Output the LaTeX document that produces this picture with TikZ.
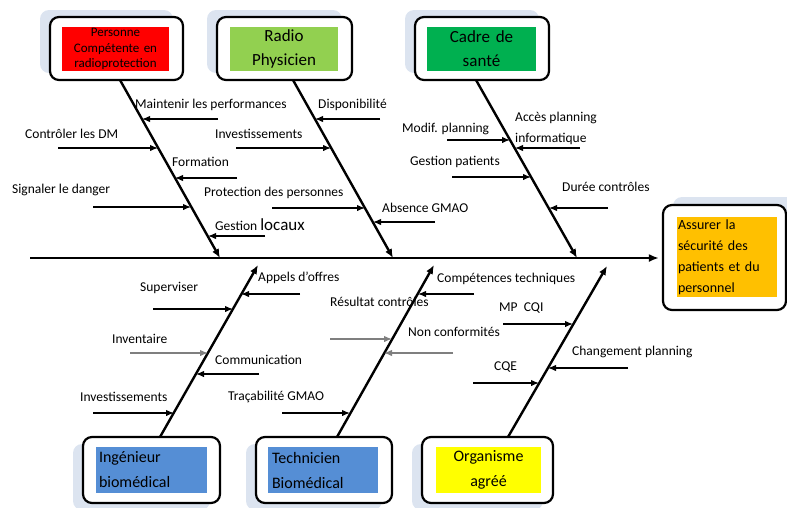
\documentclass[tikz,border=0pt]{standalone}
\usepackage{fontspec}
\setmainfont{Carlito}
\usetikzlibrary{arrows.meta}
\definecolor{shadowc}{HTML}{DCE4F0}
\definecolor{cred}{HTML}{FF0000}
\definecolor{cgreenl}{HTML}{92D050}
\definecolor{cgreen}{HTML}{00B050}
\definecolor{corange}{HTML}{FFC000}
\definecolor{cblue}{HTML}{558ED5}
\definecolor{cyellow}{HTML}{FFFF00}
\definecolor{cgray}{HTML}{7F7F7F}
\begin{document}
\begin{tikzpicture}[x=1pt,y=-1pt,
  lbl/.style={anchor=west, inner sep=0pt, font=\fontsize{13.5}{15}\selectfont},
  side/.style={line width=1.3pt, -{Latex[length=8pt,width=6.5pt]}},
  grayside/.style={side, draw=cgray},
  bone/.style={line width=2.4pt, -{Latex[length=9pt,width=7.5pt]}},
  spine/.style={line width=2.8pt, -{Latex[length=10pt,width=8pt]}},
  outerbox/.style={draw, line width=2.2pt, rounded corners=9pt, fill=white, inner sep=0pt},
  shadowbox/.style={fill=shadowc, rounded corners=9pt, draw=none, inner sep=0pt},
  inner/.style={inner sep=0pt, align=center},
  ]
\useasboundingbox (0,0) rectangle (787,507);
\clip (0,0) rectangle (787,507);

% shadows
\node[shadowbox, minimum width=133pt, minimum height=63pt] (sh1) at (106.5,41.5) {};
\node[shadowbox, minimum width=135pt, minimum height=63pt] (sh2) at (274.5,41.5) {};
\node[shadowbox, minimum width=134pt, minimum height=63pt] (sh3) at (472,41.5) {};
\node[shadowbox, minimum width=123pt, minimum height=105pt] (sh7) at (734.5,249.5) {};
\node[shadowbox, minimum width=137pt, minimum height=66pt] (sh4) at (141.5,477) {};
\node[shadowbox, minimum width=136pt, minimum height=66pt] (sh5) at (314,477) {};
\node[shadowbox, minimum width=131pt, minimum height=66pt] (sh6) at (477.5,477) {};

% spine and bones
\coordinate (sp0) at (30,258);
\coordinate (b1t) at (120,80);  \coordinate (b1b) at (220,258);
\coordinate (b2t) at (293,80);  \coordinate (b2b) at (393,258);
\coordinate (b3t) at (476,80);  \coordinate (b3b) at (577,258);
\coordinate (b4b) at (160,437); \coordinate (b4t) at (258,265);
\coordinate (b5b) at (337,437); \coordinate (b5t) at (434,265);
\coordinate (b6b) at (508,437); \coordinate (b6t) at (607,266);

% boxes
\node[outerbox, minimum width=133pt, minimum height=63pt] (bx1) at (116.5,48.5) {};
\node[outerbox, minimum width=135pt, minimum height=63pt] (bx2) at (284.5,48.5) {};
\node[outerbox, minimum width=134pt, minimum height=63pt] (bx3) at (482,48.5) {};
\node[outerbox, minimum width=123pt, minimum height=105pt] (bx7) at (724.5,257.5) {};
\node[outerbox, minimum width=137pt, minimum height=66pt] (bx4) at (151.5,470) {};
\node[outerbox, minimum width=136pt, minimum height=66pt] (bx5) at (324,470) {};
\node[outerbox, minimum width=131pt, minimum height=66pt] (bx6) at (487.5,470) {};

\draw[spine, shorten >=3pt] (sp0) -- (sp0 -| bx7.west);
\draw[bone] (b1t) -- (b1b);
\draw[bone] (b2t) -- (b2b);
\draw[bone] (b3t) -- (b3b);
\draw[bone] (b4b) -- (b4t);
\draw[bone] (b5b) -- (b5t);
\draw[bone] (b6b) -- (b6t);

% inner coloured boxes
\node[inner, fill=cred, minimum height=44pt, text width=107pt, font=\fontsize{13}{15.5}\selectfont] (t1) at (115.5,49) {Personne\\Compétente en\\radioprotection};
\node[inner, fill=cgreenl, minimum height=44pt, text width=108pt, font=\fontsize{17}{24}\selectfont] (t2) at (284,49) {Radio\\Physicien};
\node[inner, fill=cgreen, minimum height=44pt, text width=109pt, font=\fontsize{17}{24}\selectfont] (t3) at (481.5,49) {Cadre de\\santé};
\node[inner, fill=corange, minimum height=80pt, text width=98pt, inner xsep=1pt, align=left, font=\fontsize{14}{21}\selectfont] (t4) at (727,257) {Assurer la\\sécurité des\\patients et du\\personnel};
\node[inner, fill=cblue, minimum height=46pt, text width=105pt, inner xsep=3pt, align=left, font=\fontsize{16}{25}\selectfont] (t5) at (151.5,470) {Ingénieur\\biomédical};
\node[inner, fill=cblue, minimum height=46pt, text width=102pt, inner xsep=4pt, align=left, font=\fontsize{16}{25}\selectfont] (t6) at (323,470) {Technicien\\Biomédical};
\node[inner, fill=cyellow, minimum height=46pt, text width=105pt, font=\fontsize{16}{25}\selectfont] (t7) at (488.5,470) {Organisme\\agréé};

% labels
\node[lbl] (l1) at (135,105) {Maintenir les performances};
\node[lbl] (l2) at (25,134) {Contrôler les DM};
\node[lbl] (l3) at (172,162) {Formation};
\node[lbl] (l4) at (12,190) {Signaler le danger};
\node[lbl] (l5) at (215,225) {Gestion {\fontsize{17}{17}\selectfont locaux}};
\node[lbl] (l6) at (318,105) {Disponibilité};
\node[lbl] (l7) at (215,134) {Investissements};
\node[lbl] (l8) at (204,193) {Protection des personnes};
\node[lbl] (l9) at (382,208) {Absence GMAO};
\node[lbl] (l10) at (402,129) {Modif. planning};
\node[lbl, align=left, font=\fontsize{13.5}{21}\selectfont] (l11) at (515,128.5) {Accès planning\\informatique};
\node[lbl] (l12) at (410,162) {Gestion patients};
\node[lbl] (l13) at (562,187) {Durée contrôles};
\node[lbl] (l14) at (258,278) {Appels d’offres};
\node[lbl] (l15) at (140,288) {Superviser};
\node[lbl] (l16) at (112,339) {Inventaire};
\node[lbl] (l17) at (215,360) {Communication};
\node[lbl] (l18) at (80,397) {Investissements};
\node[lbl] (l19) at (437,279) {Compétences techniques};
\node[lbl] (l20) at (330,302) {Résultat contrôles};
\node[lbl] (l21) at (408,332) {Non conformités};
\node[lbl] (l22) at (228,397) {Traçabilité GMAO};
\node[lbl] (l23) at (499,308) {MP\ \ CQI};
\node[lbl] (l24) at (572,352) {Changement planning};
\node[lbl] (l25) at (494,367) {CQE};

% side arrows
\coordinate (a1s) at (218,119); \coordinate (a1e) at (142,119);
\coordinate (a2s) at (58,148);  \coordinate (a2e) at (158,148);
\coordinate (a3s) at (237,178); \coordinate (a3e) at (175,178);
\coordinate (a4s) at (93,207);  \coordinate (a4e) at (191,207);
\coordinate (a5s) at (265,236); \coordinate (a5e) at (208,236);
\coordinate (a6s) at (380,119); \coordinate (a6e) at (315,119);
\coordinate (a7s) at (236,148); \coordinate (a7e) at (331,148);
\coordinate (a8s) at (272,208); \coordinate (a8e) at (365,208);
\coordinate (a9s) at (435,222); \coordinate (a9e) at (373,222);
\coordinate (a10s) at (447,140); \coordinate (a10e) at (510,140);
\coordinate (a11s) at (580,148); \coordinate (a11e) at (515,148);
\coordinate (a12s) at (452,177); \coordinate (a12e) at (531,177);
\coordinate (a13s) at (608,208); \coordinate (a13e) at (549,208);
\coordinate (a14s) at (300,294); \coordinate (a14e) at (241,294);
\coordinate (a15s) at (153,309); \coordinate (a15e) at (233,309);
\coordinate (a16s) at (130,353); \coordinate (a16e) at (208,353);
\coordinate (a17s) at (259,374); \coordinate (a17e) at (196,374);
\coordinate (a18s) at (93,413);  \coordinate (a18e) at (174,413);
\coordinate (a19s) at (474,294); \coordinate (a19e) at (418,294);
\coordinate (a20s) at (330,339); \coordinate (a20e) at (392,339);
\coordinate (a21s) at (453,353); \coordinate (a21e) at (384,353);
\coordinate (a22s) at (282,413); \coordinate (a22e) at (350,413);
\coordinate (a23s) at (503,324); \coordinate (a23e) at (573,324);
\coordinate (a24s) at (628,368); \coordinate (a24e) at (548,368);
\coordinate (a25s) at (473,383); \coordinate (a25e) at (539,383);

\foreach \i in {1,2,3,4,5,6,7,8,9,10,11,12,13,14,15,17,18,19,22,23,24,25}
  \draw[side] (a\i s) -- (a\i e);
\foreach \i in {16,20,21}
  \draw[grayside] (a\i s) -- (a\i e);
\end{tikzpicture}
\end{document}
